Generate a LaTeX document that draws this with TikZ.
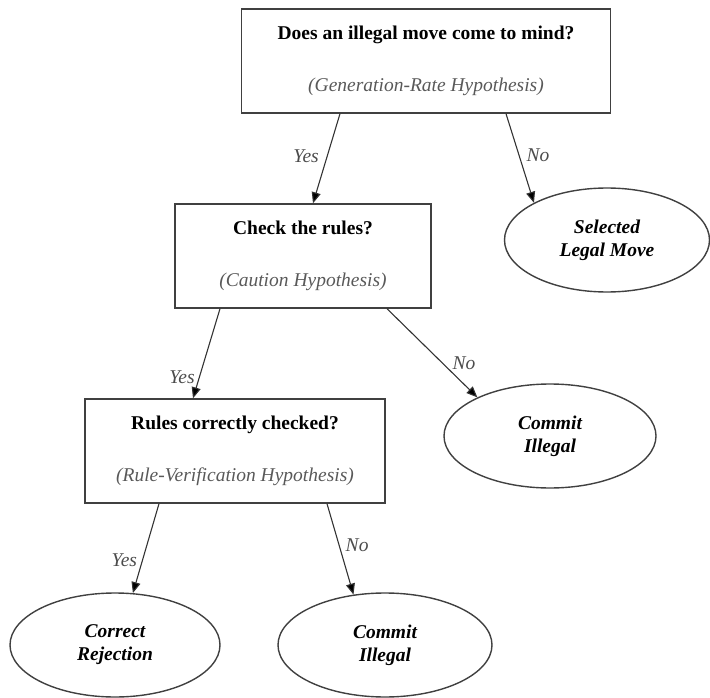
\documentclass[tikz,border=0pt]{standalone}
\usepackage{fontspec}
\setmainfont{Liberation Serif}
\usetikzlibrary{arrows.meta, positioning, shapes.geometric}
\newcommand{\diagfont}{\fontsize{19.5}{23}\selectfont}
\newcommand{\hyp}[1]{\textcolor{black!65}{\textit{(#1)}}}
\tikzset{
  question/.style={draw=black!75, line width=1.4pt, rectangle, align=center, minimum height=104pt, inner sep=0pt, font=\diagfont},
  outcome/.style={draw=black!75, line width=1.4pt, ellipse, align=center, inner sep=0pt, minimum height=104pt, font=\diagfont\bfseries\itshape},
  branch/.style={draw=black!80, line width=1.1pt, -{Triangle[length=11pt,width=9pt,fill=black]}},
  answer/.style={font=\diagfont\itshape, text=black!70, inner sep=3pt}
}

\begin{document}
\begin{tikzpicture}[x=1pt,y=-1pt]
\useasboundingbox (0,0) rectangle (710,698);

\node[question, minimum width=369pt] (q1) at (426,61)
  {\textbf{Does an illegal move come to mind?}\\[29pt]\hyp{Generation-Rate Hypothesis}};
\node[question, minimum width=256pt] (q2) at (303,256)
  {\textbf{Check the rules?}\\[29pt]\hyp{Caution Hypothesis}};
\node[question, minimum width=300pt] (q3) at (235,451)
  {\textbf{Rules correctly checked?}\\[29pt]\hyp{Rule-Verification Hypothesis}};

\node[outcome, minimum width=205pt] (legal) at (607,240) {Selected\\Legal Move};
\node[outcome, minimum width=212pt] (illegal1) at (550,436) {Commit\\Illegal};
\node[outcome, minimum width=210pt] (reject) at (115,645) {Correct\\Rejection};
\node[outcome, minimum width=214pt] (illegal2) at (385,645) {Commit\\Illegal};

\draw[branch] ([xshift=-86pt]q1.south) -- node[answer, left=5pt, pos=0.47] {Yes} ([xshift=10pt]q2.north);
\draw[branch] ([xshift=80pt]q1.south) -- node[answer, right=4pt, pos=0.47] {No} (legal.153);
\draw[branch] ([xshift=-83pt]q2.south) -- node[answer, left=1pt, pos=0.77] {Yes} ([xshift=-42pt]q3.north);
\draw[branch] ([xshift=84pt]q2.south) -- node[answer, right=6pt, pos=0.62] {No} (illegal1.152);
\draw[branch] ([xshift=-76pt]q3.south) -- node[answer, left=2pt, pos=0.63] {Yes} (reject.71);
\draw[branch] ([xshift=92pt]q3.south) -- node[answer, right=3pt, pos=0.46] {No} (illegal2.122);
\end{tikzpicture}
\end{document}
